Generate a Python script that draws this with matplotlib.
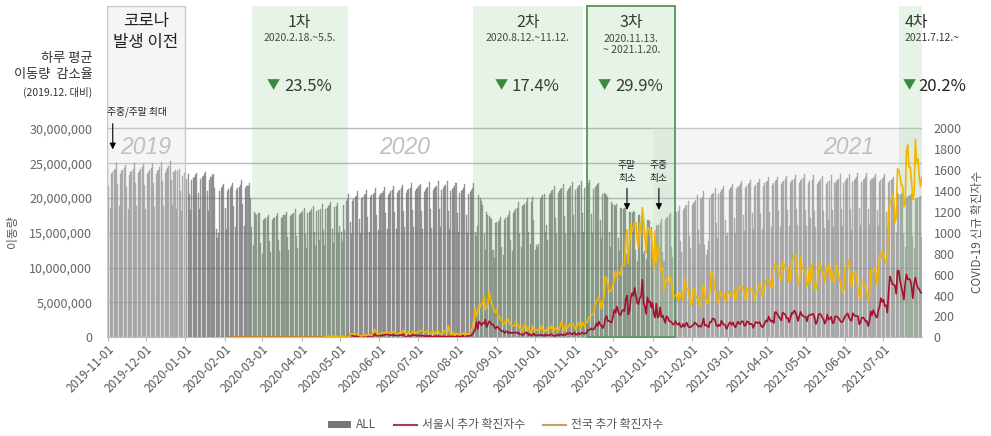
import matplotlib.pyplot as plt
import matplotlib.dates as mdates
from matplotlib.patches import Rectangle, Patch
from matplotlib.lines import Line2D
import pandas as pd

plt.rcParams['font.family'] = ['Noto Sans CJK KR', 'DejaVu Sans']

# 일별 이동량 (백만), 2019-11-01(금)부터 한 줄에 금~목 7일씩
move_rows = [
    [24.6, 21.8, 18.6, 23.4, 23.8, 24.0, 24.2],  # 2019-11-01
    [25.0, 22.0, 18.8, 23.5, 23.9, 24.1, 24.3],
    [24.8, 21.6, 18.4, 23.3, 23.7, 23.9, 24.2],
    [25.1, 22.2, 18.9, 23.6, 23.9, 24.2, 24.4],
    [24.9, 21.9, 18.5, 23.4, 23.8, 24.0, 24.3],  # 2019-11-29
    [25.0, 22.1, 18.7, 23.5, 23.9, 24.1, 24.5],
    [25.2, 22.4, 18.8, 23.6, 24.0, 24.3, 24.6],
    [25.3, 22.6, 19.0, 23.8, 24.1, 18.4, 23.9],
    [24.2, 21.0, 18.2, 23.2, 23.6, 17.2, 22.8],  # 2019-12-27
    [23.4, 20.6, 18.3, 22.6, 22.9, 23.1, 23.3],
    [23.6, 20.8, 18.4, 22.7, 23.0, 23.2, 23.5],
    [23.8, 21.0, 18.2, 22.6, 23.0, 23.3, 23.4],
    [21.5, 15.6, 14.3, 15.0, 21.0, 21.4, 21.7],  # 2020-01-24 설
    [22.0, 18.6, 15.6, 21.0, 21.3, 21.5, 21.8],
    [22.2, 18.8, 15.8, 21.1, 21.4, 21.6, 21.9],
    [22.6, 19.2, 16.0, 21.4, 21.7, 21.8, 22.1],
    [20.0, 15.8, 13.2, 18.0, 17.7, 17.6, 17.8],  # 2020-02-21
    [17.9, 13.6, 11.9, 16.8, 17.0, 17.1, 17.3],
    [17.6, 13.8, 12.2, 16.9, 17.1, 17.2, 17.4],
    [17.8, 14.0, 12.4, 17.2, 17.3, 17.5, 17.6],
    [18.0, 14.4, 12.6, 17.4, 17.6, 17.7, 17.9],
    [18.4, 14.6, 12.8, 17.6, 17.8, 17.9, 18.1],  # 2020-03-27
    [18.6, 14.8, 12.9, 17.8, 18.0, 18.2, 18.4],
    [18.9, 15.2, 13.1, 18.1, 18.3, 14.0, 18.5],
    [19.2, 15.4, 13.3, 18.4, 18.6, 18.8, 19.0],
    [19.5, 15.6, 13.6, 18.7, 18.9, 19.3, 15.0],
    [16.0, 15.2, 13.8, 19.0, 15.4, 19.6, 19.9],  # 2020-05-01
    [20.6, 16.6, 14.8, 19.6, 19.9, 20.1, 20.3],
    [21.0, 17.0, 15.0, 19.9, 20.2, 20.4, 20.6],
    [21.2, 17.3, 15.2, 20.1, 20.4, 20.6, 20.8],
    [21.4, 17.6, 15.4, 20.3, 20.6, 20.8, 21.0],  # 2020-05-29
    [21.6, 17.8, 15.5, 20.5, 20.8, 21.0, 21.2],
    [21.8, 18.0, 15.6, 20.7, 21.0, 21.2, 21.4],
    [21.9, 18.2, 15.8, 20.8, 21.1, 21.3, 21.5],
    [22.2, 18.3, 15.9, 21.0, 21.3, 21.5, 21.7],
    [22.0, 18.1, 15.6, 20.9, 21.2, 21.4, 21.6],  # 2020-07-03
    [22.3, 18.4, 15.7, 21.1, 21.4, 21.6, 21.8],
    [22.5, 18.5, 15.8, 21.2, 21.5, 21.7, 21.9],
    [22.4, 18.2, 15.5, 21.0, 21.3, 21.5, 21.7],
    [22.1, 17.8, 15.2, 20.7, 21.0, 21.2, 21.5],  # 2020-07-31
    [22.0, 17.6, 15.0, 20.6, 20.9, 21.1, 21.4],
    [22.2, 15.2, 14.6, 16.0, 20.4, 20.0, 19.6],
    [19.0, 14.8, 12.6, 18.0, 17.6, 17.4, 17.2],
    [17.0, 12.6, 11.4, 16.4, 16.5, 16.6, 16.8],  # 2020-08-28
    [17.3, 13.0, 11.8, 16.9, 17.1, 17.3, 17.6],
    [18.2, 14.0, 12.4, 17.9, 18.2, 18.4, 18.6],
    [19.4, 14.8, 13.0, 18.8, 19.0, 19.2, 19.4],
    [20.0, 15.2, 13.4, 19.4, 20.2, 16.8, 12.6],  # 2020-09-25 추석
    [13.2, 13.0, 13.4, 19.8, 20.2, 20.4, 20.6],
    [15.2, 16.2, 14.0, 20.4, 20.7, 21.0, 21.2],
    [21.8, 17.2, 14.8, 20.8, 21.0, 21.3, 21.5],
    [22.0, 17.4, 14.9, 21.0, 21.3, 21.5, 21.7],
    [22.3, 17.6, 15.0, 21.2, 21.5, 21.7, 21.9],  # 2020-10-30
    [22.5, 17.8, 15.2, 21.4, 21.7, 21.9, 22.1],
    [22.6, 17.7, 15.0, 21.3, 21.6, 21.8, 22.0],
    [22.2, 16.8, 14.2, 20.6, 20.8, 20.6, 20.4],
    [20.2, 15.2, 13.0, 19.4, 19.2, 19.0, 18.8],
    [19.2, 14.2, 12.4, 18.6, 18.6, 18.5, 18.6],  # 2020-12-04
    [18.6, 12.0, 10.6, 18.0, 18.0, 17.9, 18.1],
    [18.0, 12.6, 11.0, 17.6, 17.6, 17.4, 17.0],
    [12.0, 12.4, 11.2, 16.8, 16.9, 16.7, 15.8],
    [11.4, 11.6, 10.9, 16.2, 16.0, 16.1, 16.4],  # 2021-01-01
    [17.0, 12.2, 11.0, 16.8, 17.1, 17.3, 17.5],
    [17.9, 13.0, 11.6, 17.5, 17.8, 18.0, 18.2],
    [18.8, 13.8, 12.2, 18.3, 18.6, 18.8, 19.0],
    [19.6, 14.6, 12.8, 19.0, 19.3, 19.5, 19.7],
    [20.4, 15.4, 13.4, 19.8, 20.2, 21.0, 13.2],  # 2021-02-05 설
    [11.8, 12.6, 13.8, 20.0, 20.4, 20.6, 20.8],
    [21.4, 16.4, 14.2, 20.6, 20.9, 21.1, 21.3],
    [21.8, 16.8, 14.6, 15.0, 21.2, 21.4, 21.6],
    [22.0, 17.2, 15.0, 21.3, 21.6, 21.8, 22.0],  # 2021-03-05
    [22.4, 17.6, 15.3, 21.5, 21.8, 22.0, 22.2],
    [22.6, 17.8, 15.5, 21.6, 21.9, 22.1, 22.3],
    [22.8, 17.9, 15.6, 21.8, 22.1, 22.3, 22.5],
    [23.0, 18.0, 15.8, 21.9, 22.2, 22.4, 22.6],  # 2021-04-02
    [23.1, 18.1, 15.9, 22.0, 22.3, 22.5, 22.7],
    [23.2, 18.3, 16.0, 22.1, 22.4, 22.6, 22.8],
    [23.3, 18.4, 16.1, 22.2, 22.5, 22.7, 22.9],
    [23.4, 18.3, 16.0, 22.1, 22.5, 17.2, 22.6],  # 2021-04-30
    [23.3, 18.2, 15.8, 22.0, 22.3, 22.5, 22.7],
    [23.2, 18.1, 15.7, 22.0, 22.3, 16.8, 22.5],
    [23.3, 18.3, 15.9, 22.1, 22.4, 22.6, 22.8],
    [23.4, 18.4, 16.0, 22.2, 22.5, 22.7, 22.9],
    [23.5, 18.5, 15.4, 22.3, 22.6, 22.8, 23.0],  # 2021-06-04
    [23.6, 18.6, 16.2, 22.3, 22.6, 22.8, 23.0],
    [23.6, 18.5, 16.1, 22.4, 22.7, 22.9, 23.1],
    [23.5, 18.3, 16.0, 22.3, 22.6, 22.8, 23.0],
    [23.4, 18.0, 15.8, 22.2, 22.5, 22.6, 22.8],  # 2021-07-02
    [23.0, 17.4, 15.2, 20.8, 20.6, 20.5, 20.6],
    [20.8, 14.8, 13.0, 20.0, 20.2, 20.3, 20.4],
    [20.6, 14.6, 12.8, 19.8, 19.9, 20.0, 20.1],
    [20.3, 14.4],                                # 2021-07-30
]
move_all = [v * 1e6 for row in move_rows for v in row]
move_dates = pd.date_range('2019-11-01', periods=len(move_all))

# 신규 확진자수, 2020-02-05부터 (2020-04-19까지는 0으로 들어옴)
national_cases = [0] * 75 + [
    13, 9, 11, 8, 6, 10, 10, 10, 14, 9, 4,                                  # 2020-04-20~
    9, 6, 13, 8, 3, 2, 4, 12, 18, 34, 35, 27, 26, 29, 27, 19, 13, 15, 13, 32,
    12, 20, 23, 25, 16, 19, 40, 79, 58, 39, 27,                              # 2020-05
    35, 38, 49, 39, 39, 51, 57, 38, 38, 50, 45, 56, 48, 34, 37, 34, 43, 59,
    49, 67, 48, 17, 46, 51, 28, 39, 51, 62, 42, 43,                          # 2020-06
    51, 54, 63, 63, 61, 48, 44, 63, 50, 45, 35, 44, 62, 33, 39, 61, 60, 39,
    34, 26, 45, 63, 59, 41, 113, 58, 25, 28, 48, 18, 36,                     # 2020-07
    31, 30, 23, 34, 33, 43, 20, 36, 28, 34, 54, 56, 103, 166, 279, 197, 246,
    297, 288, 324, 332, 397, 266, 280, 320, 441, 371, 323, 299, 248, 235,    # 2020-08
    267, 195, 198, 168, 167, 119, 136, 156, 155, 176, 136, 121, 109, 106,
    113, 153, 126, 110, 82, 70, 61, 110, 125, 114, 61, 95, 50, 38, 113, 77,  # 2020-09
    63, 75, 64, 73, 75, 114, 69, 54, 72, 58, 97, 102, 84, 110, 47, 73, 91,
    76, 58, 91, 121, 155, 77, 61, 119, 88, 103, 125, 114, 127, 124,          # 2020-10
    97, 75, 118, 125, 145, 89, 143, 126, 100, 146, 143, 191, 205, 208, 223,
    230, 313, 343, 363, 386, 330, 271, 349, 382, 583, 569, 504, 450, 438, 451,  # 2020-11
    511, 540, 629, 583, 631, 615, 594, 686, 682, 689, 950, 1030, 718, 880,
    1078, 1014, 1064, 1097, 1097, 926, 869, 1092, 985, 1241, 1132, 970, 808,
    1046, 1050, 967, 1029,                                                   # 2020-12
    824, 657, 1020, 715, 840, 869, 674, 641, 665, 451, 537, 562, 524, 513,
    580, 520, 389, 386, 404, 401, 346, 431, 392, 437, 349, 559, 497, 469,
    458, 355, 305,                                                           # 2021-01
    336, 467, 451, 370, 393, 372, 289, 303, 444, 504, 403, 362, 326, 344,
    457, 621, 621, 561, 448, 416, 332, 356, 440, 396, 406, 415, 355, 344,    # 2021-02
    444, 424, 398, 424, 416, 446, 346, 446, 470, 465, 488, 490, 459, 382,
    363, 469, 445, 463, 452, 456, 415, 346, 428, 430, 494, 505, 482, 384,
    447, 506, 551,                                                           # 2021-03
    557, 543, 543, 473, 478, 668, 700, 671, 677, 614, 587, 542, 731, 698,
    673, 658, 672, 532, 549, 731, 735, 797, 785, 644, 499, 512, 769, 680,
    661, 627,                                                                # 2021-04
    606, 488, 541, 676, 525, 701, 564, 463, 463, 511, 635, 715, 681, 610,
    619, 528, 654, 646, 707, 561, 666, 585, 530, 516, 707, 629, 587, 533,
    480, 430, 459,                                                           # 2021-05
    677, 681, 695, 744, 556, 485, 602, 611, 630, 565, 452, 399, 373, 545,
    540, 507, 482, 429, 357, 395, 645, 610, 634, 668, 614, 501, 595, 794,
    761, 826,                                                                # 2021-06
    794, 743, 711, 746, 1212, 1275, 1316, 1378, 1324, 1100, 1150, 1615, 1600,
    1536, 1452, 1454, 1252, 1278, 1784, 1842, 1630, 1629, 1487, 1318, 1365,
    1896, 1674, 1710, 1539, 1442, 1540,                                      # 2021-07
]
seoul_cases = [0] * 75 + [
    2, 1, 1, 2, 1, 0, 1, 1, 1, 2, 1,                                        # 2020-04-20~
    2, 1, 0, 1, 1, 2, 5, 17, 21, 20, 17, 10, 13, 11, 8, 7, 5, 3, 8, 7, 8, 9,
    14, 10, 8, 8, 14, 33, 21, 15, 16,                                        # 2020-05
    19, 14, 19, 21, 23, 25, 30, 24, 24, 20, 23, 22, 18, 21, 17, 19, 22, 21,
    24, 26, 12, 9, 14, 16, 10, 19, 25, 18, 20, 17,                           # 2020-06
    14, 18, 16, 14, 17, 12, 10, 13, 9, 15, 10, 8, 4, 7, 10, 12, 14, 6, 9, 5,
    11, 10, 4, 7, 6, 8, 13, 6, 8, 9, 8,                                      # 2020-07
    10, 8, 9, 7, 13, 12, 15, 13, 11, 12, 14, 21, 28, 53, 73, 146, 78, 151,
    138, 116, 138, 130, 170, 97, 127, 154, 146, 120, 124, 103, 82,           # 2020-08
    101, 94, 80, 66, 58, 61, 40, 55, 57, 39, 49, 41, 44, 42, 46, 47, 39, 45,
    29, 28, 23, 26, 40, 45, 42, 17, 41, 16, 23, 38,                          # 2020-09
    16, 20, 17, 19, 26, 20, 22, 13, 25, 22, 18, 21, 29, 26, 20, 12, 17, 16,
    30, 17, 30, 25, 18, 27, 22, 41, 33, 41, 39, 25, 38,                      # 2020-10
    46, 23, 30, 40, 28, 40, 45, 36, 35, 40, 68, 71, 71, 86, 74, 76, 96, 132,
    109, 151, 121, 112, 87, 115, 178, 204, 155, 158, 146, 142,               # 2020-11
    193, 262, 235, 295, 252, 218, 213, 251, 262, 252, 362, 399, 219, 254,
    378, 423, 398, 473, 399, 328, 318, 374, 393, 552, 331, 299, 223, 383,
    336, 345, 286,                                                           # 2020-12
    330, 229, 189, 323, 189, 205, 287, 193, 210, 171, 138, 202, 187, 156,
    153, 143, 122, 127, 155, 128, 121, 137, 101, 100, 128, 102, 128, 139,
    101, 97, 98,                                                             # 2021-01
    111, 117, 142, 132, 119, 101, 111, 100, 128, 180, 112, 117, 109, 95,
    147, 147, 180, 178, 164, 112, 104, 121, 109, 159, 133, 122, 116, 79,     # 2021-02
    106, 136, 144, 118, 142, 113, 94, 125, 150, 128, 132, 154, 152, 110,
    114, 153, 147, 124, 131, 125, 90, 122, 147, 141, 136, 146, 112, 97,
    109, 136, 163,                                                           # 2021-03
    151, 198, 171, 150, 160, 137, 242, 239, 217, 197, 179, 162, 236, 227,
    219, 182, 187, 143, 180, 233, 225, 255, 242, 206, 157, 198, 244, 214,
    204, 196,                                                                # 2021-04
    196, 153, 204, 214, 214, 221, 225, 183, 127, 153, 217, 225, 215, 190,
    171, 131, 160, 219, 167, 177, 197, 139, 136, 197, 200, 196, 181, 160,
    146, 150, 176,                                                           # 2021-05
    203, 217, 230, 188, 167, 158, 231, 210, 204, 204, 202, 125, 138, 186,
    190, 178, 150, 157, 107, 151, 250, 210, 259, 232, 201, 190, 261, 296,
    375, 339,                                                                # 2021-06
    360, 302, 307, 236, 424, 583, 550, 509, 505, 495, 417, 638, 638, 536,
    480, 434, 361, 515, 603, 555, 560, 547, 489, 373, 516, 573, 509, 475,
    459, 432, 424,                                                           # 2021-07
]
case_dates = pd.date_range('2020-02-05', periods=len(national_cases))

# 유행 시기
wave_names = ['1차', '2차', '3차', '4차']
wave_periods = ['2020.2.18.~5.5.', '2020.8.12.~11.12.', '2020.11.13.\n~ 2021.1.20.', '2021.7.12.~']
wave_drops = ['23.5%', '17.4%', '29.9%', '20.2%']
wave_starts = ['2020-02-22', '2020-08-13 05:00', '2020-11-11', '2021-07-12 19:00']
wave_ends = ['2020-05-07 05:00', '2020-11-07 14:00', '2021-01-18 19:00', '2021-07-31 12:00']

year_labels = ['2019', '2020', '2021']
year_label_x = ['2019-12-01', '2020-06-21', '2021-06-04']

d = mdates.date2num
x_left = d(pd.Timestamp('2019-11-01')) - 0.5
x_right = d(pd.Timestamp('2021-07-31')) + 0.5
y_top = 47.6e6          # 30,000,000 위쪽으로 머리말 공간
y2_top = 2000 * y_top / 30e6

fig = plt.figure(figsize=(9.91, 4.36), dpi=100)
ax = fig.add_axes([107 / 991, 98.7 / 436, 815.4 / 991, 331.3 / 436])
ax.set_xlim(x_left, x_right)
ax.set_ylim(0, y_top)

# 이동량 막대
ax.bar(move_dates, move_all, width=0.8, color='#a2a2a2', edgecolor='#6e6e6e',
       linewidth=0.2, zorder=2)

# 가로 눈금선
for v in range(5, 31, 5):
    ax.axhline(v * 1e6, color='#666666', alpha=0.45, lw=1, zorder=3)

# 2019 / 2021 음영
gray = (0.88, 0.88, 0.88, 0.32)
ax.add_patch(Rectangle((x_left, 0), d(pd.Timestamp('2020-01-01')) - x_left, y_top,
                       facecolor=gray, edgecolor='#c8c8c8', lw=1, zorder=4))
x21 = d(pd.Timestamp('2021-01-01'))
ax.add_patch(Rectangle((x21, 0), x_right - x21, 30e6,
                       facecolor=gray, edgecolor='none', zorder=4))

# 유행 시기 띠
green = (0.47, 0.75, 0.47, 0.18)
for i in range(4):
    x0 = d(pd.Timestamp(wave_starts[i]))
    x1 = d(pd.Timestamp(wave_ends[i]))
    edge = '#5e9c62' if i == 2 else 'none'
    ax.add_patch(Rectangle((x0, 0), x1 - x0, y_top, facecolor=green,
                           edgecolor=edge, lw=1.4, zorder=5, clip_on=False))
    mid = (x0 + x1) / 2
    if i < 3:
        ax.text(mid, 45.3e6, wave_names[i], ha='center', va='center', fontsize=11.5, color='#222')
        ax.text(mid, 42.1e6 if i == 2 else 43.0e6, wave_periods[i], ha='center', va='center',
                fontsize=7.5, color='#333', linespacing=1.1)
        ax.annotate('▼', xy=(mid, 36.1e6), xytext=(-20, 0), textcoords='offset pixels',
                    ha='right', va='center', fontsize=9.5, color='#2e7d32')
        ax.annotate(wave_drops[i], xy=(mid, 36.1e6), xytext=(-16, 0), textcoords='offset pixels',
                    ha='left', va='center', fontsize=12, color='#222')
    else:
        ax.annotate(wave_names[i], xy=(x0, 45.3e6), xytext=(6, 0), textcoords='offset pixels',
                    ha='left', va='center', fontsize=11.5, color='#222')
        ax.annotate(wave_periods[i], xy=(x0, 43.0e6), xytext=(6, 0), textcoords='offset pixels',
                    ha='left', va='center', fontsize=7.5, color='#333')
        ax.annotate('▼', xy=(x0, 36.1e6), xytext=(4, 0), textcoords='offset pixels',
                    ha='left', va='center', fontsize=9.5, color='#2e7d32')
        ax.annotate(wave_drops[i], xy=(x0, 36.1e6), xytext=(20, 0), textcoords='offset pixels',
                    ha='left', va='center', fontsize=12, color='#222')

# 머리말
x19 = d(pd.Timestamp('2019-12-01'))
ax.text(x19, 43.9e6, '코로나\n발생 이전', ha='center', va='center', fontsize=12,
        color='#222', linespacing=1.3, zorder=6)
for lab, xd in zip(year_labels, year_label_x):
    ax.text(d(pd.Timestamp(xd)), 27.3e6, lab, ha='center', va='center', fontsize=16.5,
            family='Liberation Sans', style='italic', color='#c0c0c0', zorder=6)

ax.text(-0.018, 40.1e6, '하루 평균', transform=ax.get_yaxis_transform(), ha='right',
        va='center', fontsize=9.5, color='#333')
ax.text(-0.018, 37.7e6, '이동량  감소율', transform=ax.get_yaxis_transform(), ha='right',
        va='center', fontsize=9.5, color='#333')
ax.text(-0.018, 35.2e6, '(2019.12. 대비)', transform=ax.get_yaxis_transform(), ha='right',
        va='center', fontsize=7.5, color='#333')

# 주석 화살표
arrow = dict(arrowstyle='-|>', color='black', lw=0.8, mutation_scale=9)
ax.text(d(pd.Timestamp('2019-11-24')), 32.4e6, '주중/주말 최대', ha='center', va='center',
        fontsize=7, color='#222', zorder=7)
ax.annotate('', xy=(d(pd.Timestamp('2019-11-05')), 26.6e6),
            xytext=(d(pd.Timestamp('2019-11-05')), 31.1e6), arrowprops=arrow, zorder=7)
for lab, xd in [('주말\n최소', '2020-12-12'), ('주중\n최소', '2021-01-06')]:
    xn = d(pd.Timestamp(xd))
    ax.text(xn, 23.8e6, lab, ha='center', va='center', fontsize=7, color='#222',
            linespacing=1.3, zorder=7)
    ax.annotate('', xy=(xn, 17.9e6), xytext=(xn, 21.8e6), arrowprops=arrow, zorder=7)

# 축
ax.set_yticks([v * 1e6 for v in range(0, 31, 5)])
ax.set_yticklabels([f'{v * 1000000:,}' for v in range(0, 31, 5)])
ax.tick_params(axis='y', length=0, pad=10.5, labelsize=9, labelcolor='#666')
ax.xaxis.set_major_locator(mdates.MonthLocator())
ax.xaxis.set_major_formatter(mdates.DateFormatter('%Y-%m-%d'))
ax.tick_params(axis='x', length=3, color='#bbbbbb', labelsize=8.5, labelcolor='#555', pad=1)
for t in ax.get_xticklabels():
    t.set_rotation(45)
    t.set_ha('right')
    t.set_rotation_mode('anchor')
for s in ['top', 'left', 'right']:
    ax.spines[s].set_visible(False)
ax.spines['bottom'].set_color('#bbbbbb')
fig.text(12 / 991, 1 - 232 / 436, '이동량', rotation=90, ha='center', va='center',
         fontsize=8.5, color='#555')

# 확진자수 (오른쪽 축)
ax2 = ax.twinx()
ax2.set_ylim(0, y2_top)
ax2.plot(case_dates, seoul_cases, color='#a8102e', lw=1.2)
ax2.plot(case_dates, national_cases, color='#f2b600', lw=1.2)
ax2.set_yticks(range(0, 2001, 200))
ax2.tick_params(axis='y', length=0, pad=8, labelsize=9, labelcolor='#666')
for s in ax2.spines.values():
    s.set_visible(False)
fig.text(978 / 991, 1 - 232 / 436, 'COVID-19 신규 확진자수', rotation=90, ha='center',
         va='center', fontsize=8.5, color='#555')

handles = [Patch(facecolor='#777777'),
           Line2D([], [], color='#a04050', lw=1.5),
           Line2D([], [], color='#c8a060', lw=1.5)]
fig.legend(handles, ['ALL', '서울시 추가 확진자수', '전국 추가 확진자수'], loc='lower center',
           bbox_to_anchor=(0.5, -0.014), ncol=3, frameon=False, fontsize=8.5,
           labelcolor='#555', handlelength=2.0, handleheight=0.6, columnspacing=1.5,
           handletextpad=0.4)

fig.savefig('out.png', dpi=100)
